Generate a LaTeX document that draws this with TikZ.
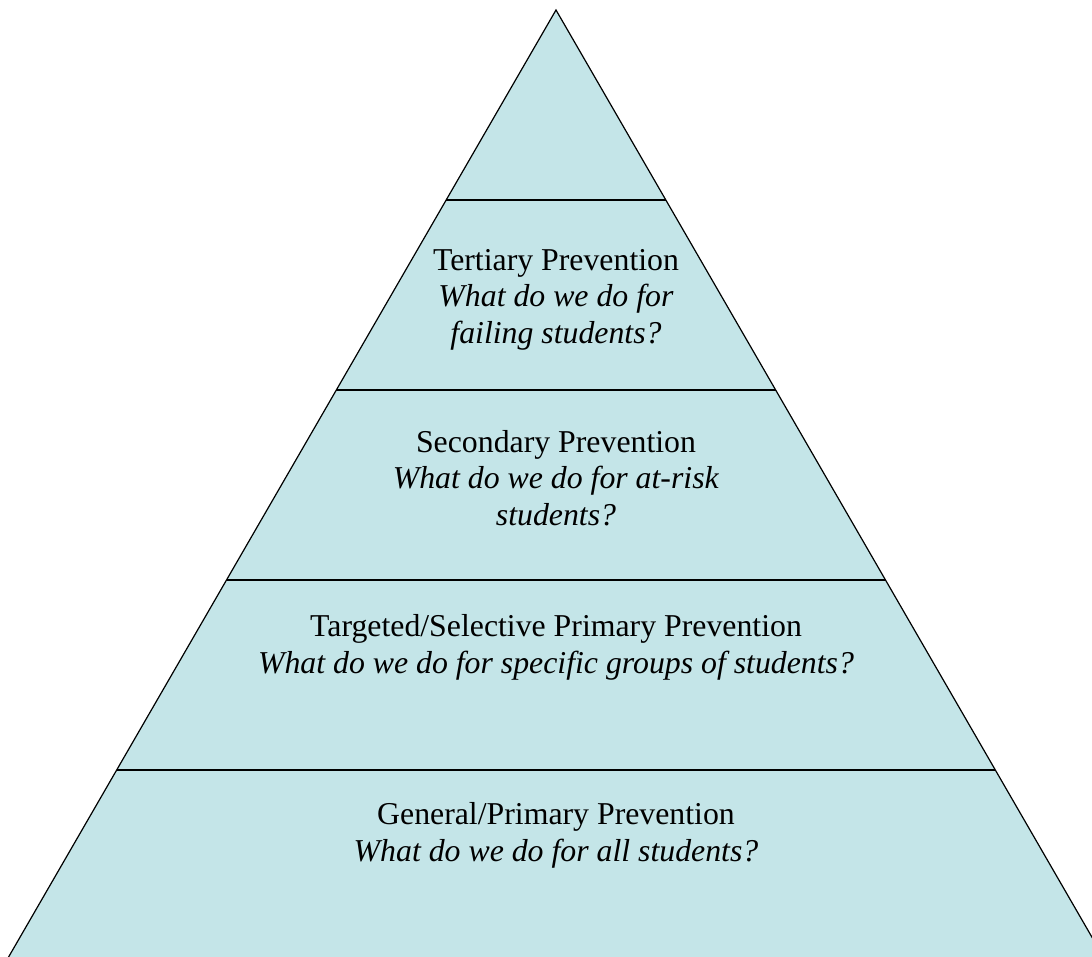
\documentclass[tikz,border=0pt]{standalone}
\usepackage{fontspec}
\setmainfont{Liberation Serif}
\usetikzlibrary{calc}
\definecolor{tierfill}{RGB}{196,229,232}

\begin{document}
\begin{tikzpicture}[x=1pt,y=-1pt,
   tier/.style={align=center,anchor=base,inner sep=0pt,font=\fontsize{31.8}{36.5}\selectfont},
   edge/.style={line width=1.2pt}]
   \useasboundingbox (0,0) rectangle (1092,956);
   \clip (0,0) rectangle (1092,956);
   \coordinate (apex) at (556,10);
   \coordinate (baseL) at (8,958);
   \coordinate (baseR) at (1104,958);
   \draw[edge,fill=tierfill] (apex) -- (baseL) -- (baseR) -- cycle;
   % tier dividers
   \foreach \y in {200,390,580,770}
      \draw[edge] ($(apex)!{(\y-10)/948}!(baseL)$) -- ($(apex)!{(\y-10)/948}!(baseR)$);
   \node[tier] (tertiary) at (556,343) {Tertiary Prevention\\ \textit{What do we do for}\\ \textit{failing students?}};
   \node[tier] (secondary) at (556,525) {Secondary Prevention\\ \textit{What do we do for at-risk}\\ \textit{students?}};
   \node[tier] (targeted) at (556,673) {Targeted/Selective Primary Prevention\\ \textit{What do we do for specific groups of students?}};
   \node[tier] (general) at (556,861) {General/Primary Prevention\\ \textit{What do we do for all students?}};
\end{tikzpicture}
\end{document}
